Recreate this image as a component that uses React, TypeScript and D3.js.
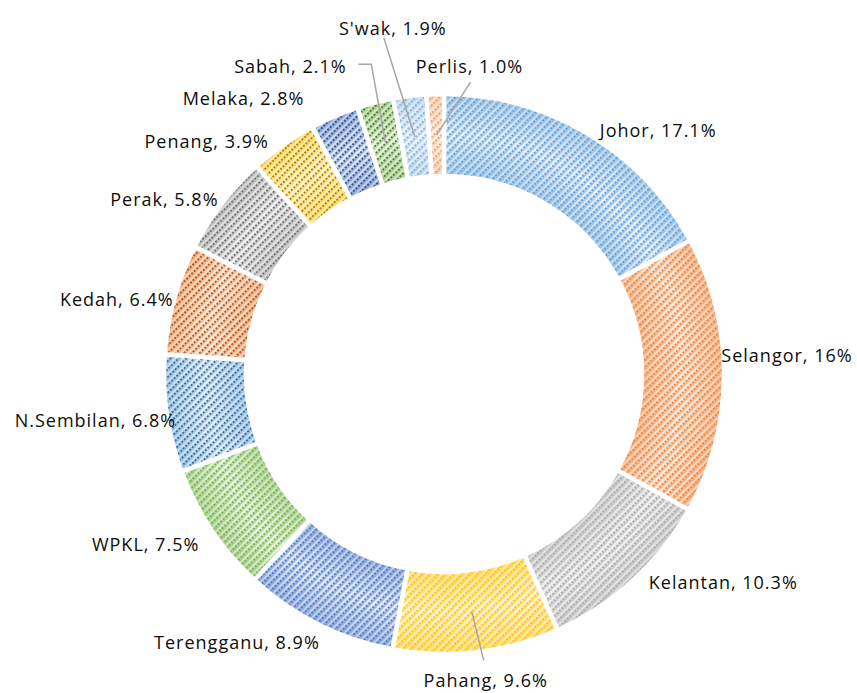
import React from 'react';
import * as d3 from 'd3';

// share of total by state, clockwise from 12 o'clock
const states = ['Johor', 'Selangor', 'Kelantan', 'Pahang', 'Terengganu', 'WPKL', 'N.Sembilan',
  'Kedah', 'Perak', 'Penang', 'Melaka', 'Sabah', "S'wak", 'Perlis'];
const shares = [17.1, 16, 10.3, 9.6, 8.9, 7.5, 6.8, 6.4, 5.8, 3.9, 2.8, 2.1, 1.9, 1.0];
const shareText = ['17.1%', '16%', '10.3%', '9.6%', '8.9%', '7.5%', '6.8%', '6.4%', '5.8%', '3.9%', '2.8%', '2.1%', '1.9%', '1.0%'];

// hatch line colour, light and dark background tones
const lineColors = ['#5B9BD5', '#ED7D31', '#A5A5A5', '#FFC000', '#4472C4', '#70AD47', '#255E91',
  '#9E480E', '#636363', '#997300', '#264478', '#43682B', '#7CAFDD', '#F1975A'];
const lightColors = ['#DEEBF7', '#FBE5D6', '#EDEDED', '#FFF2CC', '#DAE3F3', '#E2F0D9', '#DEEBF7',
  '#FBE5D6', '#EDEDED', '#FFF2CC', '#DAE3F3', '#E2F0D9', '#EAF2FA', '#FDF0E7'];
const darkColors = ['#9DC3E6', '#F4B183', '#C9C9C9', '#FFD966', '#8FAADC', '#A9D18E', '#9DC3E6',
  '#F4B183', '#BFBFBF', '#FFD966', '#8FAADC', '#A9D18E', '#BDD7EE', '#F8CBAD'];

// label placement: offset of label centre from the slice centroid
const labelOffsets: [number, number][] = [
  [92, -39], [104, -20], [118, 32], [14, 69], [-100, 54], [-100, 37], [-112, 12],
  [-97, -11], [-90, -30], [-100, -37], [-107, -56], [-95, -76], [-22, -109], [33, -69],
];
// leader lines: index, end offset from label centre, horizontal elbow length
const leaders: { i: number; end: [number, number]; elbow: number }[] = [
  { i: 3, end: [-2, -20], elbow: 0 },
  { i: 11, end: [68, -2], elbow: 13 },
  { i: 12, end: [-9, 10], elbow: 0 },
  { i: 13, end: [1, 16], elbow: 0 },
];

const width = 857;
const height = 693;
const cx = 444;
const cy = 374;
const outerR = 280;
const innerR = 198;

export default function App() {
  const pie = d3.pie<number>().sort(null).value(d => d);
  const slices = pie(shares);
  const arc = d3.arc<d3.PieArcDatum<number>>().innerRadius(innerR).outerRadius(outerR);

  return (
    <svg width={width} height={height} style={{ position: 'absolute', left: 0, top: 0, display: 'block' }}
      fontFamily="'Open Sans', sans-serif">
      <defs>
        {slices.map((s, i) => (
          <radialGradient key={'g' + i} id={'grad' + i} gradientUnits="userSpaceOnUse" cx={0} cy={0} r={outerR}>
            <stop offset={innerR / outerR} stopColor={darkColors[i]} />
            <stop offset={(innerR / outerR + 1) / 2} stopColor={lightColors[i]} />
            <stop offset={1} stopColor={darkColors[i]} />
          </radialGradient>
        ))}
        {slices.map((s, i) => (
          <pattern key={'p' + i} id={'pat' + i} patternUnits="userSpaceOnUse" width={3.6} height={5.6}
            patternTransform="rotate(-45)">
            <line x1={0} x2={3.6} y1={4.2} y2={4.2} stroke={darkColors[i]} strokeWidth={1.4} />
            <line x1={0} x2={3.6} y1={2.8} y2={2.8} stroke={lineColors[i]} strokeWidth={1.6}
              strokeDasharray="2 1.6" />
            <line x1={0} x2={3.6} y1={0.6} y2={0.6} stroke="#ffffff" strokeOpacity={0.5} strokeWidth={1.4} />
          </pattern>
        ))}
      </defs>
      <g transform={`translate(${cx},${cy})`}>
        {slices.map((s, i) => (
          <g key={states[i]}>
            <path d={arc(s) || ''} fill={`url(#grad${i})`} />
            <path d={arc(s) || ''} fill={`url(#pat${i})`} stroke="#ffffff" strokeWidth={4.5} strokeLinejoin="round" />
          </g>
        ))}
        {leaders.map(l => {
          const [x0, y0] = arc.centroid(slices[l.i]);
          const ex = x0 + labelOffsets[l.i][0] + l.end[0];
          const ey = y0 + labelOffsets[l.i][1] + l.end[1];
          const pts: [number, number][] = l.elbow
            ? [[x0, y0], [ex + l.elbow, ey], [ex, ey]]
            : [[x0, y0], [ex, ey]];
          return (
            <path key={'l' + l.i} d={d3.line()(pts) || ''} fill="none" stroke="#A6A6A6" strokeWidth={1.5} />
          );
        })}
        {slices.map((s, i) => {
          const [x0, y0] = arc.centroid(s);
          return (
            <text key={'t' + i} x={x0 + labelOffsets[i][0]} y={y0 + labelOffsets[i][1]}
              textAnchor="middle" dominantBaseline="central" fontSize={18} letterSpacing={1}
              fill="#0d0d0d">
              {`${states[i]}, ${shareText[i]}`}
            </text>
          );
        })}
      </g>
    </svg>
  );
}
